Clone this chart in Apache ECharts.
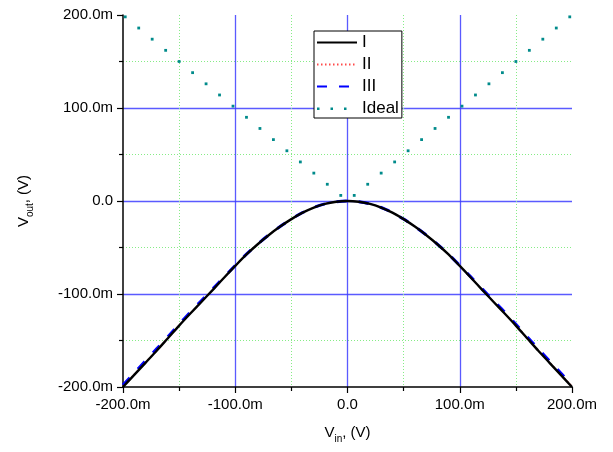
<!DOCTYPE html>
<html>
<head>
<meta charset="utf-8">
<script src="https://cdn.jsdelivr.net/npm/echarts@6/dist/echarts.min.js"></script>
<style>
html, body { margin: 0; padding: 0; background: #fff; }
#plot { width: 613px; height: 452px; }
</style>
</head>
<body>
<div id="plot"></div>
<script>
// V_in sample points (V)
var vin = [-0.200, -0.190, -0.180, -0.170, -0.160, -0.150, -0.140, -0.130, -0.120, -0.110,
           -0.100, -0.090, -0.080, -0.070, -0.060, -0.050, -0.040, -0.030, -0.020, -0.010,
            0.000,
            0.010,  0.020,  0.030,  0.040,  0.050,  0.060,  0.070,  0.080,  0.090,  0.100,
            0.110,  0.120,  0.130,  0.140,  0.150,  0.160,  0.170,  0.180,  0.190,  0.200];

// V_out (mV)
var outI = [-200, -187, -174, -161, -147.5, -134, -121, -108.3, -95.5, -82.5,
            -69.8, -57.5, -46.5, -36.5, -27.5, -19.5, -12.5, -7, -3, -0.8,
            0,
            -0.8, -3, -7, -12.5, -19.5, -27.5, -36.5, -46.5, -57.5, -69.8,
            -82.5, -95.5, -108.3, -121, -134, -147.5, -161, -174, -187, -200];
var outII = [-199, -186.3, -173.4, -160.5, -147, -133.6, -120.7, -108, -95.3, -82.4,
             -69.7, -57.5, -46.5, -36.5, -27.5, -19.5, -12.5, -7, -3, -0.8,
             0,
             -0.8, -3, -7, -12.5, -19.5, -27.5, -36.5, -46.5, -57.5, -69.7,
             -82.4, -95.3, -108, -120.7, -133.6, -147, -160.5, -173.4, -186.3, -199];
var outIII = [-198, -185, -172, -159, -146, -132.5, -119.5, -107, -94.5, -81.8,
              -69.3, -57.2, -46.3, -36.4, -27.4, -19.4, -12.4, -7, -3, -0.8,
              0,
              -0.8, -3, -7, -12.4, -19.4, -27.4, -36.4, -46.3, -57.2, -69.3,
              -81.8, -94.5, -107, -119.5, -132.5, -146, -159, -172, -185, -198];

// Ideal dots (V)
var idealX = [-0.198, -0.186, -0.174, -0.162, -0.150, -0.138, -0.126, -0.114, -0.102,
              -0.090, -0.078, -0.066, -0.054, -0.042, -0.030, -0.018, -0.006,
               0.006,  0.018,  0.030,  0.042,  0.054,  0.066,  0.078,  0.090,
               0.102,  0.114,  0.126,  0.138,  0.150,  0.162,  0.174,  0.186,  0.198];
var idealY = [0.198, 0.186, 0.174, 0.162, 0.150, 0.138, 0.126, 0.114, 0.102,
              0.090, 0.078, 0.066, 0.054, 0.042, 0.030, 0.018, 0.006,
              0.006, 0.018, 0.030, 0.042, 0.054, 0.066, 0.078, 0.090,
              0.102, 0.114, 0.126, 0.138, 0.150, 0.162, 0.174, 0.186, 0.198];

var FONT = '"Liberation Sans", Arial, sans-serif';
var GRID_BLUE = '#3d3dff';

function pairs(xs, ys, scale) {
    return xs.map(function (x, i) { return [x, ys[i] * scale]; });
}

function fmt(v) {
    if (Math.abs(v) < 1e-9) return '0.0';
    return (v * 1000).toFixed(1) + 'm';
}

var nameRich = {
    m: { fontSize: 15, fontFamily: FONT, color: '#000', lineHeight: 18, verticalAlign: 'top' },
    s: { fontSize: 10, fontFamily: FONT, color: '#000', lineHeight: 10, verticalAlign: 'top', padding: [9, 0, 0, 0] }
};

function axisCommon() {
    return {
        type: 'value',
        min: -0.2,
        max: 0.2,
        interval: 0.1,
        nameLocation: 'middle',
        axisLine: { show: true, onZero: false, lineStyle: { color: '#000', width: 1.5 } },
        axisTick: { show: true, length: 6, lineStyle: { color: '#000', width: 1.2 } },
        minorTick: { show: true, splitNumber: 2, length: 4, lineStyle: { color: '#000', width: 1.2 } },
        axisLabel: { color: '#000', fontSize: 15, fontFamily: FONT, margin: 10, formatter: fmt },
        splitLine: { show: true, showMinLine: false, showMaxLine: false, lineStyle: { color: GRID_BLUE, width: 1.3, opacity: 0.85 } },
        minorSplitLine: { show: true, lineStyle: { color: '#86ec86', width: 1, type: [1, 2] } }
    };
}

var xAxis = axisCommon();
xAxis.name = '{m|V}{s|in}{m|, (V)}';
xAxis.nameGap = 38;
xAxis.nameTextStyle = { rich: nameRich };

var yAxis = axisCommon();
yAxis.name = '{m|V}{s|out}{m|, (V)}';
yAxis.nameGap = 89;
yAxis.nameRotate = 90;
yAxis.nameTextStyle = { rich: nameRich };

var noDot = { opacity: 0 };

var chart = echarts.init(document.getElementById('plot'));
chart.setOption({
    animation: false,
    backgroundColor: '#fff',
    grid: { left: 123, right: 41, top: 15, bottom: 65 },
    xAxis: xAxis,
    yAxis: yAxis,
    legend: {
        left: 314,
        top: 31,
        orient: 'vertical',
        backgroundColor: '#fff',
        borderColor: '#000',
        borderWidth: 1,
        padding: [3, 3, 1, 2],
        itemWidth: 40,
        itemHeight: 14,
        itemGap: 5,
        itemTextGap: 4,
        textStyle: { fontSize: 17, fontFamily: FONT, color: '#000', lineHeight: 17 },
        data: [
            { name: 'I', itemStyle: noDot },
            { name: 'II', itemStyle: noDot },
            { name: 'III', itemStyle: noDot },
            { name: 'Ideal', icon: 'path://M0,0L0,14L0,0ZM40,0L40,14L40,0ZM0,6h2.5v2.5h-2.5zM13.5,6h2.5v2.5h-2.5zM27,6h2.5v2.5h-2.5z',
              itemStyle: { color: '#008b8b', borderWidth: 0 } }
        ],
        symbolKeepAspect: false
    },
    series: [
        {
            name: 'Ideal',
            type: 'line',
            data: pairs(idealX, idealY, 1),
            symbol: 'rect',
            symbolSize: 2.8,
            showSymbol: true,
            itemStyle: { color: '#008b8b' },
            lineStyle: { width: 0, opacity: 0 },
            z: 3
        },
        {
            name: 'II',
            type: 'line',
            data: pairs(vin, outII, 0.001),
            symbol: 'none',
            smooth: 0.3,
            itemStyle: { color: '#ff4a4a' },
            lineStyle: { color: '#ff4a4a', width: 1.2, type: [1.5, 2.5] },
            z: 4
        },
        {
            name: 'III',
            type: 'line',
            data: pairs(vin, outIII, 0.001),
            symbol: 'none',
            smooth: 0.3,
            itemStyle: { color: '#0000ff' },
            lineStyle: { color: '#0000ff', width: 3, type: [10, 12] },
            z: 5
        },
        {
            name: 'I',
            type: 'line',
            data: pairs(vin, outI, 0.001),
            symbol: 'none',
            smooth: 0.3,
            itemStyle: { color: '#000' },
            lineStyle: { color: '#000', width: 2.4 },
            z: 6
        }
    ]
});
</script>
</body>
</html>
